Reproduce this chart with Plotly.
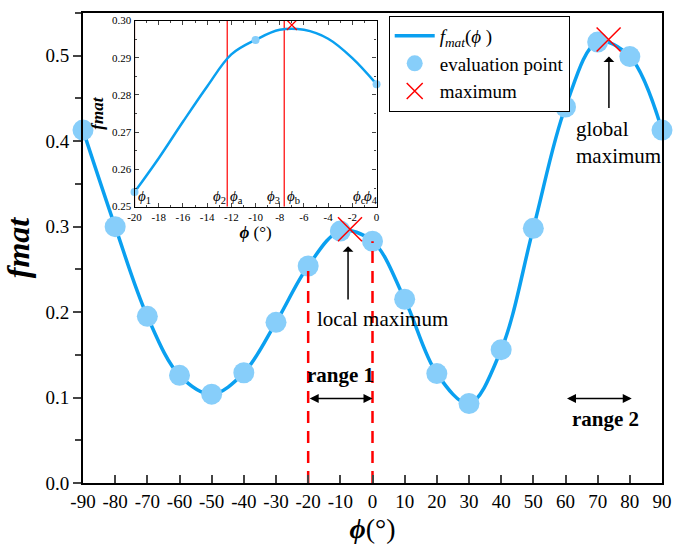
import plotly.graph_objects as go

# ---------------- data ----------------
phi_eval = [-90, -80, -70, -60, -50, -40, -30, -20, -10, 0, 10, 20, 30, 40, 50, 60, 70, 80, 90]
f_eval = [0.413, 0.300, 0.195, 0.126, 0.104, 0.129, 0.188, 0.2539, 0.2948, 0.2829, 0.215,
          0.128, 0.093, 0.156, 0.298, 0.440, 0.516, 0.499, 0.413]

max_phi = [-7.0, 73.4]
max_val = [0.297, 0.519]

x_tickvals = list(range(-90, 91, 10))
x_ticktext = [str(v) for v in x_tickvals]

# inset (zoom of range 1)
inset_phi = [-20, -18, -16, -14, -12, -10, -8, -6, -4, -2, 0]
inset_f = [0.2539, 0.2630, 0.2728, 0.2823, 0.2909, 0.2948, 0.2975, 0.2975, 0.2951, 0.2899, 0.2829]
inset_eval_phi = [-20, -10, 0]
inset_eval_f = [0.2539, 0.2948, 0.2829]
inset_max_phi = [-7.0]
inset_max_f = [0.2988]
inset_vlines = [-12.34, -7.63]
inset_labels = ["<i>ϕ</i><sub>1</sub>", "<i>ϕ</i><sub>2</sub>", "<i>ϕ</i><sub>a</sub>",
                "<i>ϕ</i><sub>3</sub>", "<i>ϕ</i><sub>b</sub>", "<i>ϕ</i><sub>c</sub>",
                "<i>ϕ</i><sub>4</sub>"]
inset_label_x = [-19.2, -12.95, -11.6, -8.5, -6.9, -1.4, -0.5]
inset_x_tickvals = list(range(-20, 1, 2))
inset_x_ticktext = [str(v) for v in inset_x_tickvals]

range1 = [-20, 0]
range2 = [60, 80.6]

FONT = "Liberation Serif, Times New Roman, serif"
BLUE = "#0aa0f0"
LIGHT = "#87cefa"

fig = go.Figure()

# main curve
fig.add_trace(go.Scatter(x=phi_eval, y=f_eval, mode="lines", line=dict(color=BLUE, width=3.5, shape="spline"),
                         name="<i>f</i><sub><i>mat</i></sub>(<i>ϕ</i> )", xaxis="x", yaxis="y"))
fig.add_trace(go.Scatter(x=phi_eval, y=f_eval, mode="markers", marker=dict(color=LIGHT, size=21),
                         name="evaluation point", xaxis="x", yaxis="y", cliponaxis=False))
fig.add_trace(go.Scatter(x=max_phi, y=max_val, mode="markers",
                         marker=dict(symbol="x-thin", size=24, line=dict(color="red", width=1.5)),
                         name="maximum", xaxis="x", yaxis="y"))

# dashed range-1 lines
for px in range1:
    fv = f_eval[phi_eval.index(px)]
    fig.add_trace(go.Scatter(x=[px, px], y=[0, fv], mode="lines",
                             line=dict(color="red", width=2.5, dash="12px,8px"),
                             showlegend=False, hoverinfo="skip", xaxis="x", yaxis="y"))

# inset
fig.add_trace(go.Scatter(x=[-20, -20], y=[0.25, 0.30], mode="lines", line=dict(color="#8b0000", width=1.2),
                         showlegend=False, xaxis="x2", yaxis="y2"))
for vx in inset_vlines:
    fig.add_trace(go.Scatter(x=[vx, vx], y=[0.25, 0.30], mode="lines", line=dict(color="red", width=1.2),
                             showlegend=False, xaxis="x2", yaxis="y2"))
fig.add_trace(go.Scatter(x=inset_phi, y=inset_f, mode="lines", line=dict(color=BLUE, width=2.5, shape="spline"),
                         showlegend=False, xaxis="x2", yaxis="y2"))
fig.add_trace(go.Scatter(x=inset_eval_phi, y=inset_eval_f, mode="markers", marker=dict(color=LIGHT, size=8),
                         showlegend=False, xaxis="x2", yaxis="y2", cliponaxis=False))
fig.add_trace(go.Scatter(x=inset_max_phi, y=inset_max_f, mode="markers",
                         marker=dict(symbol="x-thin", size=10, line=dict(color="red", width=1.2)),
                         showlegend=False, xaxis="x2", yaxis="y2"))

annotations = []
for lab, lx in zip(inset_labels, inset_label_x):
    annotations.append(dict(x=lx, y=0.2525, xref="x2", yref="y2", text=lab, showarrow=False,
                            font=dict(family=FONT, size=15, color="black")))

# range annotations
annotations.append(dict(x=range1[1], y=0.099, ax=range1[0], ay=0.099, xref="x", yref="y", axref="x", ayref="y",
                        text="", showarrow=True, arrowhead=2, arrowside="end+start", arrowsize=1.2,
                        arrowwidth=1.5, arrowcolor="black"))
annotations.append(dict(x=-10, y=0.126, xref="x", yref="y", text="<b>range 1</b>", showarrow=False,
                        font=dict(family=FONT, size=21, color="black")))
annotations.append(dict(x=range2[1], y=0.099, ax=range2[0], ay=0.099, xref="x", yref="y", axref="x", ayref="y",
                        text="", showarrow=True, arrowhead=2, arrowside="end+start", arrowsize=1.2,
                        arrowwidth=1.5, arrowcolor="black"))
annotations.append(dict(x=72.5, y=0.075, xref="x", yref="y", text="<b>range 2</b>", showarrow=False,
                        font=dict(family=FONT, size=21, color="black")))
# local maximum
annotations.append(dict(x=-7.6, y=0.277, ax=-7.6, ay=0.213, xref="x", yref="y", axref="x", ayref="y",
                        text="", showarrow=True, arrowhead=1, arrowsize=1.2, arrowwidth=1.5, arrowcolor="black"))
annotations.append(dict(x=3.0, y=0.192, xref="x", yref="y", text="local maximum", showarrow=False,
                        font=dict(family=FONT, size=21, color="black")))
# global maximum
annotations.append(dict(x=73.5, y=0.499, ax=73.5, ay=0.437, xref="x", yref="y", axref="x", ayref="y",
                        text="", showarrow=True, arrowhead=1, arrowsize=1.2, arrowwidth=1.5, arrowcolor="black"))
annotations.append(dict(x=62.6, y=0.399, xref="x", yref="y", text="global<br>maximum", showarrow=False,
                        align="left", xanchor="left", yanchor="middle",
                        font=dict(family=FONT, size=21, color="black")))

fig.update_layout(
    width=673, height=551,
    margin=dict(l=83, r=11, t=13, b=68),
    paper_bgcolor="white", plot_bgcolor="white",
    font=dict(family=FONT, color="black"),
    showlegend=True,
    legend=dict(x=0.528, y=0.994, xanchor="left", yanchor="top", bordercolor="black", borderwidth=1,
                bgcolor="white", font=dict(family=FONT, size=19), itemwidth=40, tracegroupgap=0),
    xaxis=dict(domain=[0, 1], range=[-90, 90], tickmode="array", tickvals=x_tickvals, ticktext=x_ticktext,
               ticks="inside", ticklen=8, tickwidth=1.5, automargin=False,
               showline=True, linecolor="black", linewidth=2, mirror=True, showgrid=False, zeroline=False,
               tickfont=dict(size=19), anchor="y",
               title=dict(text="<b><i>ϕ</i></b>(°)", font=dict(size=28), standoff=8)),
    yaxis=dict(domain=[0, 1], range=[0, 0.55], dtick=0.1, tickformat=".1f", ticks="outside", ticklen=8,
               tickwidth=1.5, minor=dict(dtick=0.05, ticks="outside", ticklen=6, tickwidth=1.5),
               automargin=False,
               showline=True, linecolor="black", linewidth=2, mirror=True, showgrid=False, zeroline=False,
               tickfont=dict(size=19), anchor="x",
               title=dict(text="<b><i>fmat</i></b>", font=dict(size=32), standoff=10)),
    xaxis2=dict(domain=[0.089, 0.507], range=[-20, 0], tickmode="array", tickvals=inset_x_tickvals,
                ticktext=inset_x_ticktext, ticks="inside", ticklen=4, automargin=False,
                minor=dict(dtick=1, ticks="inside", ticklen=2), showline=True, linecolor="black", linewidth=1.2,
                mirror="ticks", showgrid=False, zeroline=False, tickfont=dict(size=11), anchor="y2",
                title=dict(text="<b><i>ϕ</i></b> (°)", font=dict(size=17), standoff=2)),
    yaxis2=dict(domain=[0.588, 0.984], range=[0.25, 0.30], dtick=0.01, tickformat=".2f", ticks="inside",
                ticklen=4, minor=dict(dtick=0.005, ticks="inside", ticklen=2), showline=True, linecolor="black",
                linewidth=1.2, mirror="ticks", showgrid=False, zeroline=False, tickfont=dict(size=11),
                automargin=False,
                anchor="x2", title=dict(text="<b><i>fmat</i></b>", font=dict(size=17), standoff=4)),
    annotations=annotations,
)

fig.write_html("out.html", config={"displayModeBar": False},
               post_script="document.body.style.margin='0px';")
